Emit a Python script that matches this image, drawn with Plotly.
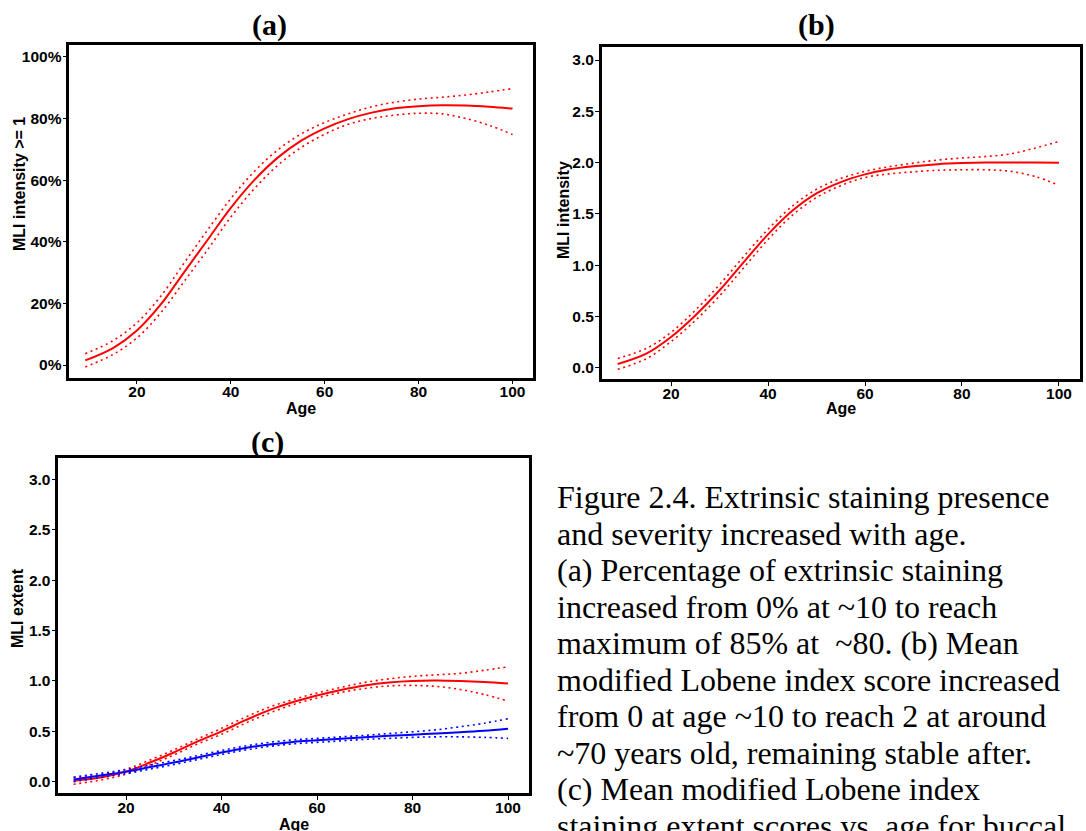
import plotly.graph_objects as go

# ---------------- data ----------------
ages = [9, 15, 20, 25, 30, 35, 40, 45, 50, 55, 60, 65, 70, 75, 80, 85, 90, 95, 100]

# (a) proportion with MLI intensity >= 1
a_fit = [0.015, 0.056, 0.112, 0.195, 0.30, 0.405, 0.51, 0.60, 0.673, 0.728, 0.768, 0.798, 0.819, 0.833, 0.84, 0.843, 0.842, 0.838, 0.832]
a_upper = [0.037, 0.08, 0.137, 0.222, 0.33, 0.437, 0.54, 0.628, 0.698, 0.75, 0.787, 0.815, 0.838, 0.853, 0.863, 0.869, 0.876, 0.886, 0.897]
a_lower = [-0.006, 0.035, 0.088, 0.168, 0.27, 0.373, 0.48, 0.572, 0.648, 0.706, 0.749, 0.781, 0.8, 0.811, 0.817, 0.815, 0.80, 0.778, 0.748]

# (b) mean MLI intensity
b_fit = [0.036, 0.14, 0.30, 0.51, 0.755, 1.03, 1.30, 1.53, 1.70, 1.81, 1.885, 1.935, 1.965, 1.985, 1.995, 2.0, 2.0, 2.0, 1.998]
b_upper = [0.09, 0.19, 0.345, 0.56, 0.81, 1.085, 1.35, 1.575, 1.74, 1.845, 1.915, 1.96, 1.995, 2.025, 2.045, 2.06, 2.085, 2.14, 2.205]
b_lower = [-0.016, 0.09, 0.255, 0.46, 0.70, 0.975, 1.25, 1.485, 1.66, 1.775, 1.855, 1.89, 1.91, 1.925, 1.93, 1.93, 1.915, 1.865, 1.78]

# (c) mean MLI extent, two series (red / blue)
c_red_fit = [0.01, 0.045, 0.10, 0.19, 0.29, 0.40, 0.50, 0.61, 0.71, 0.79, 0.855, 0.91, 0.955, 0.985, 1.0, 1.003, 0.998, 0.988, 0.973]
c_red_upper = [0.04, 0.07, 0.125, 0.215, 0.315, 0.425, 0.53, 0.64, 0.74, 0.815, 0.88, 0.935, 0.985, 1.02, 1.045, 1.06, 1.075, 1.105, 1.14]
c_red_lower = [-0.025, 0.02, 0.075, 0.165, 0.265, 0.375, 0.47, 0.58, 0.68, 0.765, 0.83, 0.885, 0.925, 0.95, 0.955, 0.945, 0.915, 0.865, 0.80]

c_blue_fit = [0.023, 0.065, 0.10, 0.145, 0.19, 0.24, 0.29, 0.335, 0.37, 0.395, 0.41, 0.425, 0.44, 0.455, 0.467, 0.478, 0.49, 0.505, 0.525]
c_blue_upper = [0.045, 0.085, 0.12, 0.165, 0.21, 0.26, 0.31, 0.355, 0.39, 0.415, 0.43, 0.445, 0.46, 0.478, 0.495, 0.515, 0.545, 0.58, 0.625]
c_blue_lower = [0.0, 0.045, 0.08, 0.125, 0.17, 0.22, 0.27, 0.315, 0.35, 0.375, 0.39, 0.405, 0.42, 0.43, 0.44, 0.445, 0.445, 0.44, 0.43]

x_ticks = [20, 40, 60, 80, 100]
a_ticks = [0, 0.2, 0.4, 0.6, 0.8, 1.0]
bc_ticks = [0, 0.5, 1.0, 1.5, 2.0, 2.5, 3.0]

panel_titles = ["(a)", "(b)", "(c)"]
y_titles = ["MLI intensity >= 1", "MLI intensity", "MLI extent"]
x_title = "Age"

caption_lines = [
    "Figure 2.4. Extrinsic staining presence",
    "and severity increased with age.",
    "(a) Percentage of extrinsic staining",
    "increased from 0% at ~10 to reach",
    "maximum of 85% at  ~80. (b) Mean",
    "modified Lobene index score increased",
    "from 0 at age ~10 to reach 2 at around",
    "~70 years old, remaining stable after.",
    "(c) Mean modified Lobene index",
    "staining extent scores vs. age for buccal",
]

# ---------------- styling ----------------
W, H = 1086, 831
SANS = "Liberation Sans, Arial, sans-serif"
SERIF = "Liberation Serif, Times New Roman, serif"
RED = "#ff0000"
BLUE = "#0000ff"
DOT = "2px,3.6px"

fig = go.Figure()


def add_band(xref, yref, fit, upper, lower, color):
    for ys, dash, width in ((upper, DOT, 1.6), (lower, DOT, 1.6), (fit, "solid", 2)):
        fig.add_trace(go.Scatter(
            x=ages, y=ys, mode="lines", xaxis=xref, yaxis=yref,
            line=dict(color=color, width=width, dash=dash, shape="spline", smoothing=1.0),
            showlegend=False, hoverinfo="skip",
        ))


add_band("x", "y", a_fit, a_upper, a_lower, RED)
add_band("x2", "y2", b_fit, b_upper, b_lower, RED)
add_band("x3", "y3", c_red_fit, c_red_upper, c_red_lower, RED)
add_band("x3", "y3", c_blue_fit, c_blue_upper, c_blue_lower, BLUE)

tick_font = dict(family=SANS, size=15.5, color="black", weight="bold")


def xax(domain, anchor, rng):
    return dict(domain=domain, anchor=anchor, range=rng, tickmode="array", tickvals=x_ticks,
                showline=True, mirror=True, linecolor="black", linewidth=2.5,
                ticks="outside", ticklen=4, tickwidth=1.2, tickcolor="black",
                ticklabelstandoff=-6,
                showgrid=False, zeroline=False, tickfont=tick_font)


def yax(domain, anchor, rng, ticks, fmt):
    return dict(domain=domain, anchor=anchor, range=rng, tickmode="array", tickvals=ticks,
                tickformat=fmt, showline=True, mirror=True, linecolor="black", linewidth=2.5,
                ticks="outside", ticklen=4, tickwidth=1.2, tickcolor="black",
                ticklabelstandoff=-2,
                showgrid=False, zeroline=False, tickfont=tick_font)


def px(xp):
    return xp / W


def py(yp):
    return 1 - yp / H


fig.update_layout(
    width=W, height=H, margin=dict(l=0, r=0, t=0, b=0),
    paper_bgcolor="white", plot_bgcolor="white",
    xaxis=xax([px(69.3), px(532.7)], "y", [5.6, 104.3]),
    yaxis=yax([py(377.7), py(44.5)], "x", [-0.041, 1.04], a_ticks, ".0%"),
    xaxis2=xax([px(601.7), px(1080.3)], "y2", [5.7, 104.4]),
    yaxis2=yax([py(379.3), py(46.7)], "x2", [-0.113, 3.13], bc_ticks, ".1f"),
    xaxis3=xax([px(58.3), px(529)], "y3", [5.8, 104.4]),
    yaxis3=yax([py(793.3), py(457.7)], "x3", [-0.115, 3.214], bc_ticks, ".1f"),
)

annotations = []
# panel titles
for title, (xc, yc) in zip(panel_titles, [(269, 25), (816, 25), (267, 442)]):
    annotations.append(dict(text=title, x=px(xc), y=py(yc), xref="paper", yref="paper",
                            xanchor="center", yanchor="middle", showarrow=False,
                            font=dict(family=SERIF, size=30, color="black", weight="bold")))
# x axis titles
for xc, yc in [(301, 408), (841, 408), (294, 824)]:
    annotations.append(dict(text=x_title, x=px(xc), y=py(yc), xref="paper", yref="paper",
                            xanchor="center", yanchor="middle", showarrow=False,
                            font=dict(family=SANS, size=16, color="black", weight="bold")))
# y axis titles
for title, (xc, yc) in zip(y_titles, [(19, 184), (563, 210), (17, 608)]):
    annotations.append(dict(text=title, x=px(xc), y=py(yc), xref="paper", yref="paper",
                            xanchor="center", yanchor="middle", textangle=-90, showarrow=False,
                            font=dict(family=SANS, size=16, color="black", weight="bold")))
# caption, one line at a time
line_gap = 36.5
for i, line in enumerate(caption_lines):
    annotations.append(dict(text=line, x=px(555), y=py(497 + i * line_gap), xref="paper", yref="paper",
                            xanchor="left", yanchor="middle", showarrow=False,
                            font=dict(family=SERIF, size=32, color="black")))

fig.update_layout(annotations=annotations)

fig.write_html("out.html")
